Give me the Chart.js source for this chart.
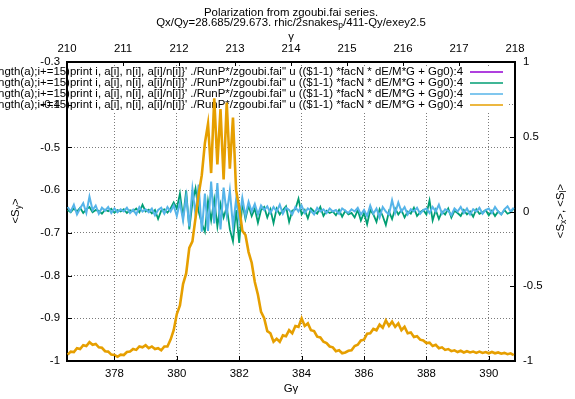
<!DOCTYPE html>
<html lang="en">
<head>
<meta charset="UTF-8">
<title>Polarization from zgoubi.fai series</title>
<script src="https://cdn.jsdelivr.net/npm/chart.js"></script>
<style>
  html, body { margin:0; padding:0; background:#fff; }
  #wrap { width:575px; height:399px; }
</style>
</head>
<body>
<div id="wrap"><canvas id="chart" width="575" height="399"></canvas></div>
<script>
// G*gamma sampling points, shared by all curves
const ggamma = [
  376.5,376.6,376.7,376.8,376.9,
  377.0,377.1,377.2,377.3,377.4,377.5,377.6,377.7,377.8,377.9,
  378.0,378.1,378.2,378.3,378.4,378.5,378.6,378.7,378.8,378.9,
  379.0,379.1,379.2,379.3,379.4,379.5,379.6,379.7,379.8,379.9,
  380.0,380.1,380.2,380.3,380.4,380.5,380.6,380.7,380.8,380.9,
  381.0,381.1,381.2,381.3,381.4,381.5,381.6,381.7,381.8,381.9,
  382.0,382.1,382.2,382.3,382.4,382.5,382.6,382.7,382.8,382.9,
  383.0,383.1,383.2,383.3,383.4,383.5,383.6,383.7,383.8,383.9,
  384.0,384.1,384.2,384.3,384.4,384.5,384.6,384.7,384.8,384.9,
  385.0,385.1,385.2,385.3,385.4,385.5,385.6,385.7,385.8,385.9,
  386.0,386.1,386.2,386.3,386.4,386.5,386.6,386.7,386.8,386.9,
  387.0,387.1,387.2,387.3,387.4,387.5,387.6,387.7,387.8,387.9,
  388.0,388.1,388.2,388.3,388.4,388.5,388.6,388.7,388.8,388.9,
  389.0,389.1,389.2,389.3,389.4,389.5,389.6,389.7,389.8,389.9,
  390.0,390.1,390.2,390.3,390.4,390.5,390.6,390.7,390.8
];

// <S_y> (orange, left axis)
const sy = [
  -0.985,-0.978,-0.979,-0.970,-0.972,-0.963,-0.965,-0.956,-0.962,-0.960,-0.968,-0.969,-0.977,-0.978,-0.985,
  -0.986,-0.990,-0.985,-0.986,-0.979,-0.978,-0.972,-0.974,-0.966,-0.968,-0.963,-0.970,-0.966,-0.972,-0.970,-0.975,-0.966,-0.966,-0.950,-0.928,
  -0.890,-0.870,-0.820,-0.795,-0.735,-0.720,-0.665,-0.610,-0.565,-0.490,
  -0.445,-0.560,-0.385,-0.540,-0.410,-0.575,-0.395,-0.550,-0.430,-0.600,
  -0.640,-0.695,-0.705,-0.745,-0.770,-0.815,-0.845,-0.885,-0.900,-0.930,
  -0.935,-0.955,-0.948,-0.955,-0.940,-0.942,-0.928,-0.935,-0.918,-0.920,
  -0.900,-0.918,-0.912,-0.928,-0.930,-0.943,-0.945,-0.955,-0.958,-0.966,
  -0.968,-0.977,-0.975,-0.982,-0.980,-0.976,-0.975,-0.965,-0.962,-0.952,
  -0.950,-0.936,-0.935,-0.925,-0.928,-0.915,-0.922,-0.905,-0.918,-0.908,
  -0.920,-0.912,-0.928,-0.920,-0.935,-0.933,-0.944,-0.942,-0.950,-0.952,
  -0.958,-0.957,-0.965,-0.962,-0.970,-0.968,-0.974,-0.972,-0.977,-0.975,
  -0.979,-0.976,-0.980,-0.977,-0.980,-0.978,-0.981,-0.978,-0.981,-0.979,
  -0.982,-0.979,-0.982,-0.980,-0.983,-0.981,-0.984,-0.982,-0.986
];

// <S_x> (green, right axis)
const sx = [
  0.010,-0.005,0.020,0.000,0.025,-0.010,0.015,0.030,-0.005,0.010,0.005,-0.015,0.012,0.002,0.018,
  -0.008,0.010,0.000,0.015,-0.010,0.008,0.002,0.020,-0.005,0.045,0.000,0.012,-0.012,0.010,-0.050,0.005,0.015,-0.008,0.020,0.060,
  0.020,0.120,-0.040,0.140,-0.120,0.060,0.155,0.000,-0.080,-0.135,
  0.070,-0.060,0.080,-0.100,0.050,-0.040,0.030,-0.120,-0.200,0.010,
  -0.210,0.060,-0.050,0.040,-0.030,0.020,-0.075,0.010,0.030,-0.040,
  0.015,-0.078,0.020,-0.020,0.010,0.035,-0.070,0.005,0.015,0.085,
  -0.020,0.010,-0.045,0.020,0.000,-0.015,0.030,-0.030,0.005,-0.010,
  0.000,-0.025,0.010,-0.035,0.005,-0.020,-0.010,-0.040,0.010,-0.060,
  -0.010,-0.085,0.010,-0.020,-0.070,0.015,-0.030,-0.090,0.000,-0.050,
  0.020,-0.020,0.010,-0.040,0.000,-0.015,0.025,-0.030,-0.005,0.010,
  -0.020,0.075,-0.060,0.010,-0.050,0.000,-0.020,0.020,-0.040,0.005,
  -0.010,-0.030,0.010,-0.020,0.000,-0.035,0.015,-0.015,-0.005,0.010,
  -0.025,0.005,-0.030,0.000,-0.020,0.010,-0.015,-0.005,0.020
];

// <S_l> (blue, right axis)
const sl = [
  0.030,0.000,0.045,-0.020,0.020,0.055,-0.010,0.100,0.010,0.040,-0.015,0.025,0.005,0.030,-0.010,
  0.020,-0.005,0.015,0.000,0.025,-0.010,0.012,-0.020,0.030,0.000,0.015,-0.005,0.020,-0.025,0.010,0.025,-0.015,0.030,0.000,0.040,
  -0.030,0.060,-0.060,0.100,-0.100,0.150,-0.020,0.180,-0.135,0.120,
  -0.130,0.200,-0.080,0.190,-0.120,0.160,-0.020,0.140,-0.100,0.080,
  -0.060,0.090,-0.030,0.065,0.000,0.050,-0.020,0.040,0.010,0.035,
  -0.010,0.030,0.000,0.045,-0.015,0.025,0.010,-0.020,0.030,0.000,
  0.040,-0.010,0.020,0.005,-0.020,0.025,0.000,0.015,-0.010,0.020,
  0.000,0.010,-0.015,0.020,0.005,-0.010,0.015,0.000,0.025,-0.020,
  0.010,-0.030,0.040,-0.015,0.020,-0.040,0.030,0.000,-0.020,0.075,
  -0.010,0.060,0.000,0.030,-0.020,0.015,0.000,0.025,-0.015,0.010,
  0.020,-0.010,0.030,0.000,0.045,-0.015,0.015,0.005,-0.025,0.020,
  0.000,0.030,-0.010,0.020,-0.020,0.015,0.000,0.025,-0.015,0.010,
  0.020,-0.010,0.030,0.000,-0.020,0.015,0.035,0.000,0.025
];

// first key entry has no visible points in the picture
const sPurple = [];

const xTicks = [378, 380, 382, 384, 386, 388, 390];
const gammaTicks = [210, 211, 212, 213, 214, 215, 216, 217, 218];
const yTicks = [-1, -0.9, -0.8, -0.7, -0.6, -0.5, -0.4, -0.3];
const yLabels = ['-1', '-0.9', '-0.8', '-0.7', '-0.6', '-0.5', '-0.4', '-0.3'];
const y2Ticks = [-1, -0.5, 0, 0.5, 1];
const y2Labels = ['-1', '-0.5', '0', '0.5', '1'];

const keyText = 'ngth(a);i+=15)print i, a[i], n[i], a[i]/n[i]}\' ./RunP*/zgoubi.fai" u (($1-1) *facN * dE/M*G + Gg0):4';
const colors = ['#9400d3', '#009e73', '#56b4e9', '#e69f00'];

const FONT = '"Liberation Sans", Arial, sans-serif';
const FS = 11.4;

const pts = ys => ys.map((v, i) => ({ x: ggamma[i], y: v }));
const setTicks = vals => scale => { scale.ticks = vals.map(v => ({ value: v })); };
const dotted = { color: '#7a7a7a', lineWidth: 1, drawTicks: false };

// text with subscripts, parts = [[text, isSub], ...]
function richText(ctx, parts, x, y) {
  let w = 0;
  parts.forEach(([t, sub]) => {
    ctx.font = (sub ? FS * 0.75 : FS) + 'px ' + FONT;
    w += ctx.measureText(t).width;
  });
  let cx = x - w / 2;
  parts.forEach(([t, sub]) => {
    ctx.font = (sub ? FS * 0.75 : FS) + 'px ' + FONT;
    ctx.fillText(t, cx, sub ? y + 3 : y);
    cx += ctx.measureText(t).width;
  });
}

const decor = {
  id: 'decor',
  beforeDatasetsDraw(chart) {
    const ctx = chart.ctx, a = chart.chartArea;
    ctx.save();
    // opaque key box
    ctx.fillStyle = '#fff';
    ctx.fillRect(a.left + 1, 66, 508 - a.left, 45);
    ctx.font = '11.45px ' + FONT;
    ctx.textAlign = 'right';
    ctx.textBaseline = 'middle';
    colors.forEach((c, i) => {
      const y = 72 + i * 11;
      ctx.fillStyle = '#000';
      ctx.fillText(keyText, 463, y);
      ctx.strokeStyle = c;
      ctx.lineWidth = 1.5;
      ctx.beginPath();
      ctx.moveTo(470, y);
      ctx.lineTo(503, y);
      ctx.stroke();
    });
    ctx.restore();
  },
  afterDraw(chart) {
    const ctx = chart.ctx, a = chart.chartArea, s = chart.scales;
    ctx.save();
    // inward tick marks
    ctx.strokeStyle = '#000';
    ctx.lineWidth = 1;
    ctx.beginPath();
    yTicks.forEach(v => { const y = Math.round(s.y.getPixelForValue(v)) + 0.5; ctx.moveTo(a.left, y); ctx.lineTo(a.left + 5, y); });
    y2Ticks.forEach(v => { const y = Math.round(s.y2.getPixelForValue(v)) + 0.5; ctx.moveTo(a.right, y); ctx.lineTo(a.right - 5, y); });
    xTicks.forEach(v => { const x = Math.round(s.x.getPixelForValue(v)) + 0.5; ctx.moveTo(x, a.bottom); ctx.lineTo(x, a.bottom - 5); });
    gammaTicks.forEach(v => { const x = Math.round(s.x2.getPixelForValue(v)) + 0.5; ctx.moveTo(x, a.top); ctx.lineTo(x, a.top + 4); });
    ctx.stroke();

    ctx.fillStyle = '#000';
    ctx.textBaseline = 'middle';
    ctx.textAlign = 'left';
    const cx = (a.left + a.right) / 2;
    richText(ctx, [['Polarization from zgoubi.fai series.', false]], cx, 13);
    richText(ctx, [['Qx/Qy=28.685/29.673. rhic/2snakes', false], ['p', true], ['/411-Qy/exey2.5', false]], cx, 23);
    richText(ctx, [['\u03b3', false]], cx, 37);
    richText(ctx, [['G\u03b3', false]], cx, 389);

    ctx.save();
    ctx.translate(16, 211);
    ctx.rotate(-Math.PI / 2);
    richText(ctx, [['<S', false], ['y', true], ['>', false]], 0, 0);
    ctx.restore();

    ctx.save();
    ctx.translate(561, 211);
    ctx.rotate(-Math.PI / 2);
    richText(ctx, [['<S', false], ['x', true], ['>, <S', false], ['l', true], ['>', false]], 0, 0);
    ctx.restore();
    ctx.restore();
  }
};

const line = (data, color, axis, order, width) => ({
  data: pts(data), yAxisID: axis, borderColor: color, backgroundColor: color,
  borderWidth: width, pointRadius: 0, tension: 0, fill: false, order: order
});

new Chart(document.getElementById('chart'), {
  type: 'line',
  data: {
    datasets: [
      line(sPurple, colors[0], 'y', 3, 1.5),
      line(sx, colors[1], 'y2', 2, 1.8),
      line(sl, colors[2], 'y2', 1, 2),
      line(sy, colors[3], 'y', 0, 2.6)
    ]
  },
  options: {
    responsive: false,
    animation: false,
    devicePixelRatio: 1,
    layout: { padding: 0 },
    plugins: { legend: { display: false }, title: { display: false }, tooltip: { enabled: false } },
    scales: {
      x: {
        type: 'linear', position: 'bottom', min: 376.48, max: 390.84,
        afterBuildTicks: setTicks(xTicks),
        afterFit: sc => { sc.height = 38; },
        grid: dotted,
        border: { display: true, color: '#000', width: 2, dash: [1, 2] },
        ticks: { color: '#000', font: { family: FONT, size: FS }, padding: 6, maxRotation: 0, autoSkip: false }
      },
      x2: {
        type: 'linear', position: 'top', min: 210, max: 218,
        afterBuildTicks: setTicks(gammaTicks),
        afterFit: sc => { sc.height = 62; },
        grid: { drawOnChartArea: false, drawTicks: false },
        border: { display: true, color: '#000', width: 2 },
        ticks: { color: '#000', font: { family: FONT, size: FS }, padding: 6, maxRotation: 0, autoSkip: false }
      },
      y: {
        type: 'linear', position: 'left', min: -1, max: -0.3,
        afterBuildTicks: setTicks(yTicks),
        afterFit: sc => { sc.width = 67; },
        grid: dotted,
        border: { display: true, color: '#000', width: 2, dash: [1, 2] },
        ticks: { color: '#000', font: { family: FONT, size: FS }, padding: 7, autoSkip: false,
          callback: (v, i) => yLabels[i] }
      },
      y2: {
        type: 'linear', position: 'right', min: -1, max: 1,
        afterBuildTicks: setTicks(y2Ticks),
        afterFit: sc => { sc.width = 60; },
        grid: { drawOnChartArea: false, drawTicks: false },
        border: { display: true, color: '#000', width: 2 },
        ticks: { color: '#000', font: { family: FONT, size: FS }, padding: 8, autoSkip: false,
          callback: (v, i) => y2Labels[i] }
      }
    }
  },
  plugins: [decor]
});
</script>
</body>
</html>
